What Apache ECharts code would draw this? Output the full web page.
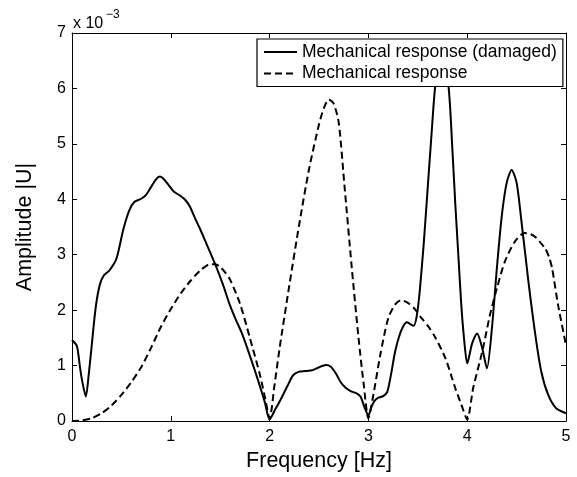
<!DOCTYPE html>
<html>
<head>
<meta charset="utf-8">
<script src="https://cdn.jsdelivr.net/npm/echarts@6/dist/echarts.min.js"></script>
<style>
html,body{margin:0;padding:0;background:#fff;}
#chart{width:577px;height:477px;}
</style>
</head>
<body>
<div id="chart"></div>
<script>
// Amplitudes in units of 10^-3
var freqDamaged = [0.00,0.05,0.08,0.10,0.14,0.17,0.20,0.24,0.28,0.32,0.38,0.45,0.52,0.58,0.63,0.70,0.75,0.80,0.85,0.89,0.93,0.98,1.03,1.09,1.14,1.19,1.25,1.30,1.36,1.46,1.53,1.60,1.66,1.72,1.80,1.88,1.95,2.00,2.06,2.11,2.18,2.24,2.30,2.36,2.44,2.50,2.57,2.62,2.67,2.72,2.77,2.82,2.88,2.92,2.96,3.00,3.03,3.06,3.10,3.15,3.19,3.23,3.27,3.31,3.35,3.39,3.43,3.46,3.49,3.52,3.56,3.60,3.64,3.68,3.74,3.81,3.85,3.88,3.91,3.94,3.97,4.00,4.05,4.10,4.15,4.20,4.25,4.30,4.35,4.40,4.45,4.50,4.55,4.62,4.69,4.75,4.82,4.90,5.00];
var ampDamaged = [1.46,1.35,0.98,0.75,0.44,0.85,1.37,2.05,2.45,2.62,2.72,2.93,3.46,3.80,3.95,4.01,4.08,4.22,4.36,4.41,4.36,4.25,4.14,4.07,4.00,3.88,3.64,3.45,3.20,2.78,2.45,2.08,1.82,1.58,1.18,0.75,0.35,0.03,0.22,0.38,0.63,0.83,0.89,0.90,0.92,0.97,1.01,0.98,0.86,0.70,0.60,0.54,0.50,0.44,0.25,0.10,0.25,0.36,0.42,0.45,0.52,0.85,1.25,1.52,1.70,1.78,1.74,1.72,1.90,2.35,3.20,4.20,5.20,6.10,6.60,6.05,4.90,3.90,3.00,2.10,1.45,1.04,1.40,1.58,1.33,0.95,1.67,2.75,3.70,4.30,4.53,4.30,3.59,2.51,1.55,0.89,0.47,0.23,0.14];

var freqHealthy = [0.00,0.10,0.20,0.30,0.40,0.50,0.60,0.70,0.80,0.90,1.00,1.10,1.20,1.30,1.40,1.45,1.50,1.55,1.60,1.70,1.80,1.90,1.95,2.00,2.05,2.10,2.20,2.30,2.40,2.50,2.55,2.60,2.65,2.70,2.76,2.83,2.90,2.95,3.00,3.05,3.12,3.20,3.27,3.33,3.40,3.47,3.54,3.60,3.67,3.78,3.88,3.94,4.00,4.06,4.11,4.16,4.23,4.30,4.38,4.48,4.58,4.64,4.69,4.79,4.83,4.86,4.92,5.00];
var ampHealthy = [0.00,0.01,0.05,0.14,0.28,0.47,0.70,0.97,1.32,1.70,2.02,2.30,2.53,2.72,2.83,2.83,2.78,2.68,2.55,2.12,1.50,0.85,0.45,0.05,0.65,1.30,2.45,3.55,4.55,5.35,5.65,5.80,5.72,5.38,4.20,2.80,1.50,0.70,0.05,0.47,1.19,1.85,2.10,2.18,2.13,2.02,1.85,1.72,1.53,1.13,0.59,0.30,0.03,0.59,0.95,1.31,1.91,2.39,2.87,3.23,3.39,3.37,3.32,3.11,2.95,2.75,2.09,1.37];

var xTicks = [0,1,2,3,4,5];
var yTicks = [0,1,2,3,4,5,6,7];
var seriesNames = ['Mechanical response (damaged)', 'Mechanical response'];

function pairs(xs, ys){ var out=[]; for(var i=0;i<xs.length;i++){ out.push([xs[i], ys[i]]); } return out; }

var FONT = '"Liberation Sans", Arial, Helvetica, sans-serif';
var chart = echarts.init(document.getElementById('chart'), null, {renderer:'canvas'});

function axisBase(){
  return {
    type:'value',
    axisLine:{show:true, onZero:false, lineStyle:{color:'#000', width:1}},
    axisTick:{show:true, inside:true, length:5, lineStyle:{color:'#000', width:1}},
    splitLine:{show:false}
  };
}

chart.setOption({
  backgroundColor:'#fff',
  animation:false,
  grid:{left:72, right:11, top:33, bottom:54},
  xAxis:[
    Object.assign(axisBase(), {
      position:'bottom', min:xTicks[0], max:xTicks[xTicks.length-1], interval:1,
      axisLabel:{show:true, color:'#000', fontSize:16, fontFamily:FONT, margin:8},
      name:'Frequency [Hz]', nameLocation:'middle', nameGap:29,
      nameTextStyle:{color:'#000', fontSize:21.5, fontFamily:FONT}
    }),
    Object.assign(axisBase(), {
      position:'top', min:xTicks[0], max:xTicks[xTicks.length-1], interval:1,
      axisLabel:{show:false}
    })
  ],
  yAxis:[
    Object.assign(axisBase(), {
      position:'left', min:yTicks[0], max:yTicks[yTicks.length-1], interval:1,
      axisLabel:{show:true, color:'#000', fontSize:16, fontFamily:FONT, margin:6},
      name:'Amplitude |U|', nameLocation:'middle', nameGap:36,
      nameTextStyle:{color:'#000', fontSize:21.5, fontFamily:FONT}
    }),
    Object.assign(axisBase(), {
      position:'right', min:yTicks[0], max:yTicks[yTicks.length-1], interval:1,
      axisLabel:{show:false}
    })
  ],
  legend:{
    show:true, orient:'vertical', left:257, top:39,
    padding:[4,6,4,6], itemGap:3.5, itemWidth:33, itemHeight:14,
    backgroundColor:'#fff', borderColor:'#000', borderWidth:1.2,
    itemStyle:{opacity:0},
    textStyle:{color:'#000', fontSize:17.5, fontFamily:FONT},
    data:seriesNames
  },
  graphic:[
    {type:'text', left:73, top:16, style:{text:'x 10', fill:'#000', fontSize:16, fontFamily:FONT}},
    {type:'text', left:106, top:9, style:{text:'\u22123', fill:'#000', fontSize:12, fontFamily:FONT}}
  ],
  series:[
    {
      name:seriesNames[0], type:'line', xAxisIndex:0, yAxisIndex:0,
      data:pairs(freqDamaged, ampDamaged),
      showSymbol:false, symbol:'none', smooth:0.25,
      lineStyle:{color:'#000', width:2, type:'solid'},
      itemStyle:{color:'#000'}
    },
    {
      name:seriesNames[1], type:'line', xAxisIndex:0, yAxisIndex:0,
      data:pairs(freqHealthy, ampHealthy),
      showSymbol:false, symbol:'none', smooth:0.25,
      lineStyle:{color:'#000', width:2, type:[7,4]},
      itemStyle:{color:'#000'}
    }
  ]
});
</script>
</body>
</html>
